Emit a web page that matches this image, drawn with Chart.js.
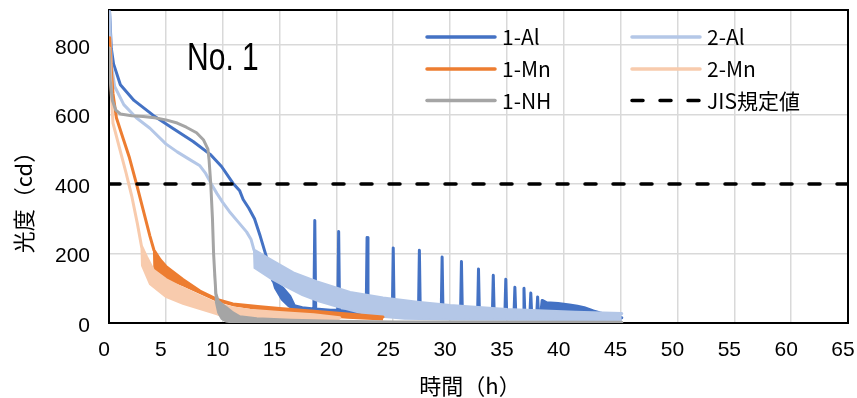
<!DOCTYPE html>
<html>
<head>
<meta charset="utf-8">
<script src="https://cdn.jsdelivr.net/npm/chart.js@4/dist/chart.umd.min.js"></script>
<style>
    html, body { margin: 0; padding: 0; background: #fff; }
    #wrap { width: 857px; height: 398px; }
</style>
</head>
<body>
<div id="wrap"><canvas id="chart" width="857" height="398"></canvas></div>
<script>
// values: [hours, cd]
// "upper" arrays are the main trace, "low" arrays are the lower edge of the noisy band
const al1 = [
    [0.05, 895], [0.2, 790], [0.4, 745], [1.0, 685], [2.2, 640], [3.9, 597], [5.6, 560],
    [7.4, 522], [8.9, 485], [9.9, 450], [10.9, 402], [11.5, 380], [11.8, 355], [12.3, 330],
    [12.8, 300], [13.3, 250], [13.8, 195], [14.4, 122], [15.3, 100], [15.9, 77], [16.3, 50],
    [17.0, 44],
    [18.02, 40], [18.1, 295], [18.18, 40], [19.5, 37],
    [20.12, 37], [20.2, 263], [20.28, 36], [21.5, 34],
    [22.62, 32], [22.7, 246], [22.78, 31],
    [24.92, 26], [25.0, 216], [25.08, 26],
    [27.22, 25], [27.3, 209], [27.38, 25],
    [29.22, 24], [29.3, 190], [29.38, 24],
    [30.92, 24], [31.0, 177], [31.08, 24],
    [32.42, 24], [32.5, 155], [32.58, 24],
    [33.72, 24], [33.8, 137], [33.88, 24],
    [34.82, 24], [34.9, 126], [34.98, 24],
    [35.62, 24], [35.7, 103], [35.78, 24],
    [36.42, 24], [36.5, 100], [36.58, 24],
    [37.02, 24], [37.1, 86], [37.18, 24],
    [37.62, 24], [37.7, 75], [37.78, 24],
    [38.02, 40], [38.1, 65], [38.5, 58], [39.5, 56], [40.5, 52], [41.2, 48], [41.8, 44],
    [42.6, 35], [43.2, 29], [44.0, 22], [45.1, 15]
];
const al1Low = [
    [13.9, 180], [14.6, 100], [15.2, 67], [15.8, 48], [16.3, 38], [18, 34], [20, 31],
    [22, 28], [24, 22], [30, 20], [38, 20], [43, 18], [45.1, 12]
];

const al2 = [
    [0.05, 895], [0.2, 745], [0.5, 680], [1.3, 628], [2.4, 590], [3.6, 560], [5, 515],
    [6, 492], [7, 472], [8, 452], [8.5, 430], [9, 400], [9.5, 372], [10, 347], [10.6, 320],
    [11.3, 293], [12.1, 262], [12.5, 240], [12.75, 210], [14.2, 182], [16.2, 144],
    [18.3, 118], [21.2, 88], [24.1, 72], [27.1, 60], [30, 50], [35, 39], [41, 31], [45.1, 27]
];
const al2Low = [
    [12.75, 210], [12.8, 158], [14.2, 128], [15.5, 105], [17, 80], [18.5, 62], [20, 47],
    [22, 30], [24, 18], [26, 12], [30, 10], [45.1, 8]
];

const mn1 = [
    [0.06, 820], [0.2, 730], [0.35, 660], [0.65, 590], [1.25, 530], [1.8, 475], [2.4, 402],
    [3.0, 326], [3.6, 250], [3.95, 210], [4.5, 182], [5, 163], [6.5, 125], [8, 92],
    [9.5, 68], [10.9, 55], [13.3, 47], [15, 42], [18.3, 33], [21, 26], [24.1, 17]
];
const mn1Low = [
    [3.95, 210], [4.0, 140], [5, 128], [6.5, 108], [8, 86], [9.5, 64], [11, 50], [13, 40],
    [15, 30], [18, 22], [21, 15], [24.1, 10]
];

const mn2 = [
    [0.05, 790], [0.2, 660], [0.35, 575], [0.95, 500], [1.5, 432], [2.0, 365], [2.5, 285],
    [2.85, 222], [3.3, 190], [3.9, 152], [5, 125], [6.5, 100], [8, 77], [9.5, 55],
    [10.9, 43], [12.4, 37], [15, 30], [18, 24], [20.3, 15]
];
const mn2Low = [
    [2.85, 222], [2.9, 165], [3.6, 112], [5, 75], [6.5, 55], [8, 40], [9.5, 25], [10.3, 14],
    [12, 6], [15, 4], [20.3, 3]
];

const nh1 = [
    [0.02, 790], [0.1, 700], [0.3, 640], [0.6, 612], [1.0, 601], [2, 596], [3, 594],
    [4, 590], [5, 584], [6, 575], [6.8, 563], [7.7, 547], [8.3, 527], [8.7, 500],
    [8.8, 470], [8.95, 400], [9.1, 300], [9.2, 200], [9.3, 140], [9.4, 85], [9.6, 63],
    [10.0, 52], [10.3, 45], [10.9, 29], [11.5, 18], [13, 12], [16, 8], [20, 5], [25, 3],
    [45.1, 2]
];
const nh1Low = [
    [9.3, 140], [9.4, 60], [9.6, 30], [9.9, 12], [10.3, 4], [11, 1], [45.1, 1]
];

const jisLine = [[0, 400], [65, 400]];

const seriesNames = ["1-Al", "2-Al", "1-Mn", "2-Mn", "1-NH"];
const seriesColors = ["#4472C4", "#B4C7E7", "#ED7D31", "#F8CBAD", "#A5A5A5"];
const seriesUpper = [al1, al2, mn1, mn2, nh1];
const seriesLower = [al1Low, al2Low, mn1Low, mn2Low, nh1Low];
const jisName = "JIS規定値";

const xTicks = [0, 5, 10, 15, 20, 25, 30, 35, 40, 45, 50, 55, 60, 65];
const yTicks = [0, 200, 400, 600, 800];
const xTitle = "時間（h）";
const yTitle = "光度（cd）";
const panelLabel = "No. 1";

const JP = "'Noto Sans CJK JP', 'Noto Sans', sans-serif";
const pts = (arr) => arr.map(([x, y]) => ({ x, y }));

// excel draws later series on top; chart.js draws higher "order" first
const datasets = [];
seriesNames.forEach((name, i) => {
    const upperIdx = datasets.length;
    datasets.push({
        label: name,
        data: pts(seriesUpper[i]),
        borderColor: seriesColors[i],
        backgroundColor: seriesColors[i],
        borderWidth: 3,
        borderJoinStyle: "round",
        borderCapStyle: "round",
        pointRadius: 0,
        fill: false,
        order: 20 - i * 2,
    });
    datasets.push({
        label: name + " band",
        data: pts(seriesLower[i]),
        borderColor: seriesColors[i],
        backgroundColor: seriesColors[i],
        borderWidth: 2,
        pointRadius: 0,
        fill: { target: upperIdx },
        order: 19 - i * 2,
    });
});
datasets.push({
    label: jisName,
    data: pts(jisLine),
    borderColor: "#000",
    borderWidth: 3.5,
    borderDash: [11, 17],
    borderCapStyle: "round",
    pointRadius: 0,
    fill: false,
    order: 0,
});

const frame = {
    id: "frame",
    beforeDatasetsDraw(chart) {
        const { ctx, chartArea: a } = chart;
        ctx.save();
        ctx.strokeStyle = "#000";
        ctx.lineWidth = 2;
        ctx.strokeRect(a.left, a.top, a.right - a.left, a.bottom - a.top);
        ctx.restore();
    },
    afterDraw(chart) {
        const { ctx } = chart;
        ctx.save();
        ctx.fillStyle = "#000";

        // panel label (narrow face, squeezed sideways)
        ctx.save();
        ctx.font = "39px 'Liberation Sans', sans-serif";
        ctx.textBaseline = "alphabetic";
        ctx.textAlign = "left";
        ctx.translate(187, 70);
        ctx.scale(0.77, 1);
        ctx.fillText(panelLabel, 0, 0);
        ctx.restore();

        // axis titles
        ctx.font = "22px " + JP;
        ctx.textAlign = "center";
        ctx.textBaseline = "middle";
        ctx.fillText(xTitle, 470, 386);
        ctx.save();
        ctx.translate(24, 197);
        ctx.rotate(-Math.PI / 2);
        ctx.fillText(yTitle, 0, 0);
        ctx.restore();

        // legend, two columns inside the plot
        const colX = [425, 630];
        const rowY = [37, 69, 100.5];
        const items = seriesNames.map((n, i) => ({ name: n, color: seriesColors[i], dash: [] }));
        items.push({ name: jisName, color: "#000", dash: [11, 17] });
        ctx.font = "21px " + JP;
        ctx.textAlign = "left";
        ctx.textBaseline = "alphabetic";
        items.forEach((it, k) => {
            const x = colX[k % 2];
            const y = rowY[Math.floor(k / 2)];
            ctx.beginPath();
            ctx.strokeStyle = it.color;
            ctx.lineWidth = 3.5;
            ctx.lineCap = "round";
            ctx.setLineDash(it.dash);
            ctx.moveTo(x + 2, y);
            ctx.lineTo(x + 70, y);
            ctx.stroke();
            ctx.setLineDash([]);
            ctx.fillStyle = "#000";
            ctx.fillText(it.name, x + 77, y + 8);
        });
        ctx.restore();
    },
};

new Chart(document.getElementById("chart"), {
    type: "line",
    data: { datasets },
    plugins: [frame],
    options: {
        responsive: false,
        animation: false,
        layout: { padding: { top: 10, right: 9, left: 0, bottom: 0 } },
        plugins: {
            legend: { display: false },
            tooltip: { enabled: false },
        },
        scales: {
            x: {
                type: "linear",
                min: 0,
                max: 65,
                afterBuildTicks: (s) => { s.ticks = xTicks.map((v) => ({ value: v })); },
                afterFit: (s) => { s.height = 75; s.paddingLeft = 0; s.paddingRight = 0; },
                grid: { color: "#D9D9D9", lineWidth: 1.5, drawTicks: false },
                border: { display: false },
                ticks: {
                    color: "#000",
                    padding: 15,
                    labelOffset: -5,
                    maxRotation: 0,
                    font: { family: "'Liberation Sans', sans-serif", size: 21 },
                },
            },
            y: {
                min: 0,
                max: 900,
                afterBuildTicks: (s) => { s.ticks = yTicks.map((v) => ({ value: v })); },
                afterFit: (s) => { s.width = 109; s.paddingTop = 0; s.paddingBottom = 0; },
                grid: { color: "#D9D9D9", lineWidth: 1.5, drawTicks: false },
                border: { display: false },
                ticks: {
                    color: "#000",
                    padding: 19,
                    labelOffset: 3,
                    font: { family: "'Liberation Sans', sans-serif", size: 21 },
                },
            },
        },
    },
});
</script>
</body>
</html>
